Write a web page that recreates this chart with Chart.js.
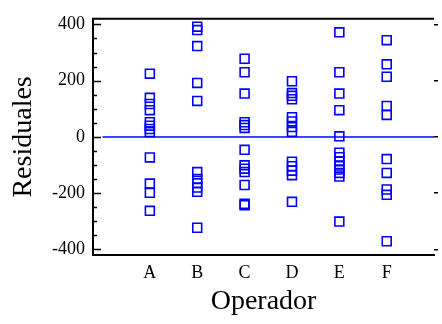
<!DOCTYPE html>
<html>
<head>
<meta charset="utf-8">
<script src="https://cdn.jsdelivr.net/npm/chart.js@4.4.1/dist/chart.umd.min.js"></script>
<style>
  body { margin: 0; background: #fff; }
  #wrap { width: 442px; height: 324px; }
</style>
</head>
<body>
<div id="wrap"><canvas id="residChart"></canvas></div>
<script>
// Residuals per operator
const operators = ['A', 'B', 'C', 'D', 'E', 'F'];
const resA = [225, 139, 117, 95, 52, 40, 28, 17, -73, -166, -199, -263];
const resB = [392, 380, 323, 192, 128, -125, -150, -165, -180, -195, -323];
const resC = [278, 230, 154, 52, 42, 32, -46, -101, -113, -125, -171, -238, -243];
const resD = [198, 156, 146, 134, 70, 55, 35, 18, -88, -104, -120, -136, -231];
const resE = [372, 230, 154, 95, 2, -56, -72, -87, -102, -116, -128, -141, -301];
const resF = [344, 258, 214, 110, 78, -79, -128, -187, -206, -371];
const yTicks = [-400, -200, 0, 200, 400];

const allRes = [resA, resB, resC, resD, resE, resF];
const blue = 'rgb(0, 0, 255)';
const serif = "'Liberation Serif', 'Times New Roman', serif";

const points = [];
allRes.forEach((vals, i) => {
    vals.forEach(v => points.push({ x: i + 1, y: v }));
});

// frame line on top + inward ticks on the left axis
const framePlugin = {
    id: 'frame',
    afterDraw(chart) {
        const ctx = chart.ctx;
        const area = chart.chartArea;
        const y = chart.scales.y;
        ctx.save();
        ctx.strokeStyle = '#000';
        ctx.lineWidth = 2;
        ctx.beginPath();
        ctx.moveTo(area.left - 1, area.top);
        ctx.lineTo(area.right, area.top);
        ctx.stroke();
        ctx.lineWidth = 1.5;
        for (let v = -400; v <= 400; v += 50) {
            const py = Math.round(y.getPixelForValue(v)) + 0.5;
            const len = (v % 200 === 0) ? 8 : 4;
            ctx.beginPath();
            ctx.moveTo(area.left, py);
            ctx.lineTo(area.left + len, py);
            ctx.stroke();
        }
        ctx.restore();
    }
};

new Chart(document.getElementById('residChart'), {
    type: 'scatter',
    data: {
        datasets: [{
            label: 'Residuales',
            data: points,
            pointStyle: 'rect',
            pointRadius: 6.3,
            pointBorderWidth: 1.6,
            borderColor: blue,
            backgroundColor: 'rgba(0,0,0,0)'
        }, {
            type: 'line',
            label: 'cero',
            data: [{ x: 0, y: 0 }, { x: 7, y: 0 }],
            borderColor: blue,
            borderWidth: 1.5,
            pointRadius: 0
        }]
    },
    options: {
        responsive: true,
        maintainAspectRatio: false,
        animation: false,
        layout: { padding: { top: 12, left: 0, right: 0, bottom: 0 } },
        plugins: {
            legend: { display: false },
            tooltip: { enabled: false }
        },
        scales: {
            x: {
                type: 'linear',
                min: -0.2,
                max: 7,
                afterBuildTicks: scale => {
                    scale.ticks = operators.map((c, i) => ({ value: i + 1 }));
                },
                afterFit: scale => { scale.height = 69; },
                ticks: {
                    color: '#000',
                    padding: 7,
                    font: { family: serif, size: 18 },
                    callback: v => operators[v - 1] || ''
                },
                grid: { display: false, drawTicks: false },
                border: { display: true, color: '#000', width: 2 },
                title: {
                    display: true,
                    text: 'Operador',
                    color: '#000',
                    font: { family: serif, size: 28 },
                    padding: { top: 0, bottom: 6 }
                }
            },
            y: {
                min: -420,
                max: 420,
                afterBuildTicks: scale => {
                    scale.ticks = yTicks.map(v => ({ value: v }));
                },
                afterFit: scale => { scale.width = 93; },
                ticks: {
                    color: '#000',
                    padding: 8,
                    font: { family: serif, size: 18 }
                },
                grid: { display: false, drawTicks: false },
                border: { display: true, color: '#000', width: 2 },
                title: {
                    display: true,
                    text: 'Residuales',
                    color: '#000',
                    font: { family: serif, size: 28 },
                    padding: { top: 7, bottom: 0 }
                }
            },
            y2: {
                position: 'right',
                min: -420,
                max: 420,
                afterBuildTicks: scale => {
                    scale.ticks = yTicks.map(v => ({ value: v }));
                },
                afterFit: scale => { scale.width = 5; },
                ticks: { display: false },
                grid: { drawOnChartArea: false, drawTicks: true, tickLength: 4, color: '#000', lineWidth: 1.5 },
                border: { display: false }
            }
        }
    },
    plugins: [framePlugin]
});
</script>
</body>
</html>
